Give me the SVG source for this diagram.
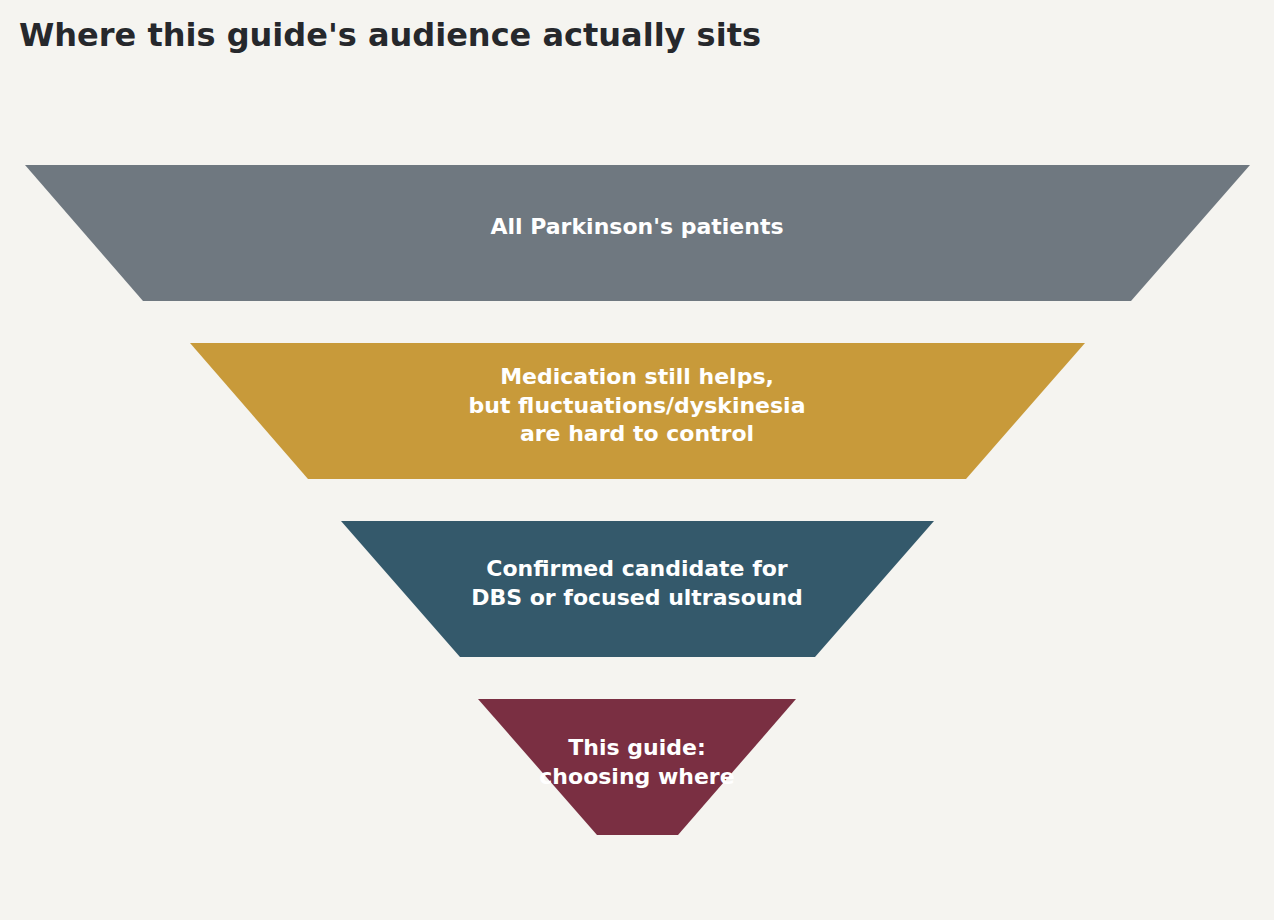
<svg xmlns="http://www.w3.org/2000/svg" width="1274" height="920" viewBox="0 0 1274 920">
<style>
.t{font-family:"DejaVu Sans",sans-serif;font-weight:bold;font-size:22px;fill:#ffffff;text-anchor:middle}
.h{font-family:"DejaVu Sans",sans-serif;font-weight:bold;font-size:32px;fill:#26282c}
</style>
<rect width="1274" height="920" fill="#f5f4f0"/>
<text class="h" x="19" y="46">Where this guide's audience actually sits</text>
<g id="stage1"><polygon points="25,165 1250,165 1131,301 143,301" fill="#6f7880"/>
<text class="t" x="637" y="234">All Parkinson's patients</text></g>
<g id="stage2"><polygon points="190,343 1085,343 966,479 308,479" fill="#c89a3a"/>
<text class="t" x="637" y="384">Medication still helps,</text>
<text class="t" x="637" y="413">but fluctuations/dyskinesia</text>
<text class="t" x="637" y="441">are hard to control</text></g>
<g id="stage3"><polygon points="341,521 934,521 815,657 460,657" fill="#34596b"/>
<text class="t" x="637" y="576">Confirmed candidate for</text>
<text class="t" x="637" y="605">DBS or focused ultrasound</text></g>
<g id="stage4"><polygon points="478,699 796,699 678,835 597,835" fill="#7a2f42"/>
<text class="t" x="637" y="755">This guide:</text>
<text class="t" x="637" y="784">choosing where</text></g>
<g id="connectors"/>
</svg>
